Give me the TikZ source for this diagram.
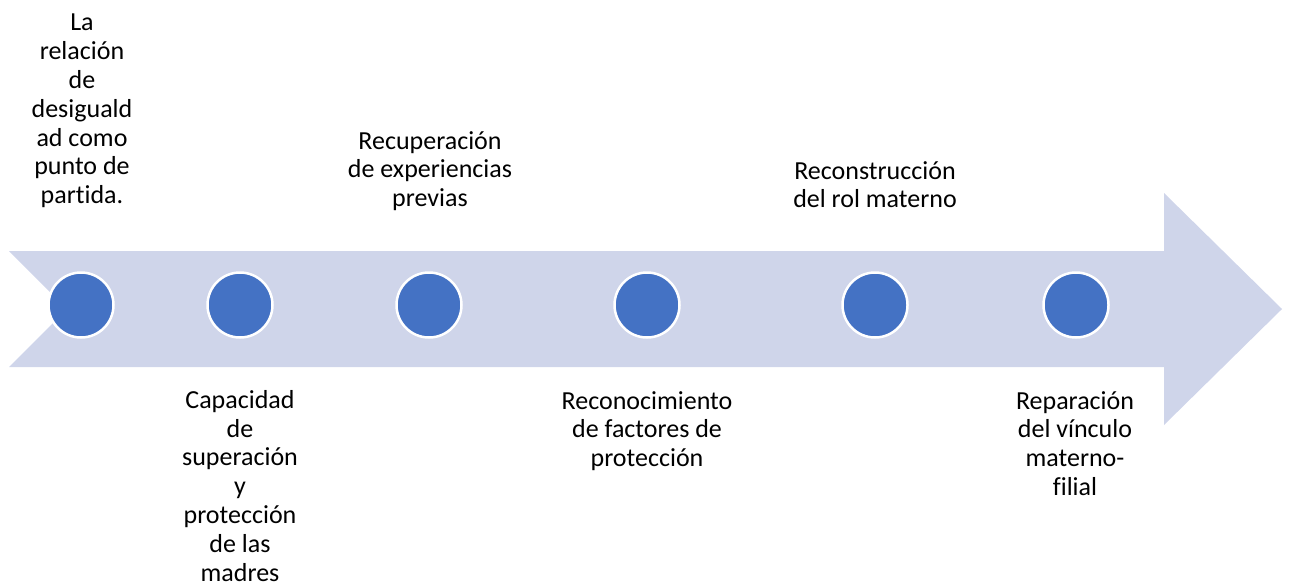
\documentclass[tikz,border=0pt]{standalone}
\usepackage{fontspec}
\setmainfont{Carlito}[Ligatures=NoCommon]
\definecolor{banda}{HTML}{CFD5EA}
\definecolor{punto}{HTML}{4472C4}
\tikzset{hito/.style={circle,fill=punto,draw=white,line width=2.5pt,minimum size=65pt,inner sep=0pt},
  etapa/.style={align=center,inner sep=0pt,anchor=north,font=\fontsize{26}{28.8}\selectfont}}
\begin{document}
\begin{tikzpicture}[x=1pt,y=-1pt]
\useasboundingbox (0,0) rectangle (1289,587);
\fill[banda] (9,251) -- (1164,251) -- (1164,193) -- (1282,309) -- (1164,425) -- (1164,367) -- (9,367) -- (67,309) -- cycle;
\foreach \x [count=\i] in {81,240,429,647,875,1076} \node[hito] (h\i) at (\x,305) {};
\node[etapa] (e1) at (82,14) {La\\relación\\de\\desiguald\\ad como\\punto de\\partida.};
\node[etapa] (e2) at (240,390) {Capacidad\\de\\superación\\y\\protección\\de las\\madres};
\node[etapa] (e3) at (430,131) {Recuperación\\de experiencias\\previas};
\node[etapa] (e4) at (875,161) {Reconstrucción\\del rol materno};
\node[etapa] (e5) at (647,391) {Reconocimiento\\de factores de\\protección};
\node[etapa] (e6) at (1075,391) {Reparación\\del vínculo\\materno-\\filial};
\end{tikzpicture}
\end{document}
